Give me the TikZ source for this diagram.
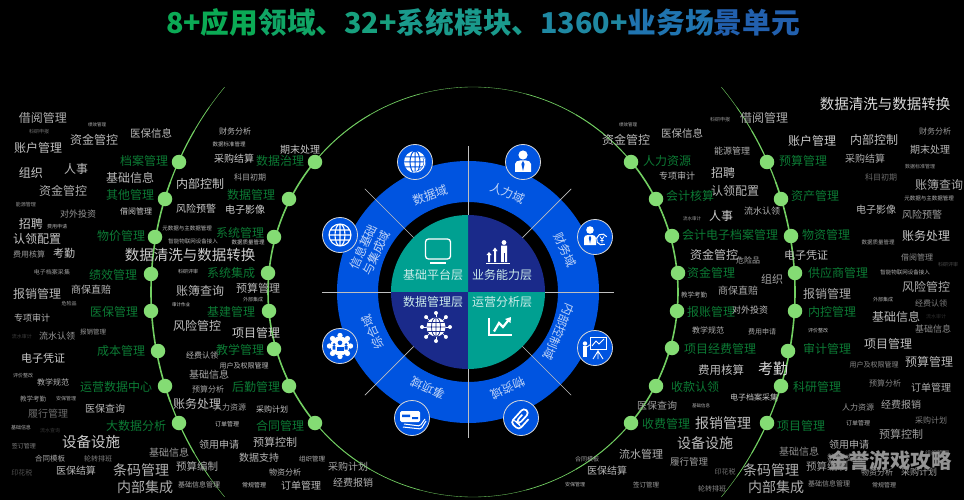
\documentclass[tikz,border=0pt]{standalone}
\usepackage{fontspec}
\setmainfont{Noto Sans CJK SC}
\usetikzlibrary{calc}
\definecolor{ringblue}{HTML}{0054E0}
\definecolor{coreteal}{HTML}{00A091}
\definecolor{corenavy}{HTML}{1A2A8A}
\definecolor{railgreen}{HTML}{72CF62}
\definecolor{dotgreen}{HTML}{84DC74}
\definecolor{wordgreen}{HTML}{0C7A34}
\tikzset{
	hotdot/.style={circle, fill=dotgreen, inner sep=0pt, minimum size=14.5pt},
	greenword/.style={color=wordgreen, inner sep=0pt, font=\fontsize{12}{12}\selectfont},
	grayword/.style={inner sep=0pt},
	ringword/.style={color=white!75!ringblue, inner sep=0pt, align=center, font=\fontsize{12}{14}\selectfont},
	coreword/.style={color=white!80!coreteal, inner sep=0pt, font=\fontsize{12}{12}\selectfont},
	iconball/.style={circle, fill=ringblue, draw=white!85!black, line width=0.8pt, inner sep=0pt, minimum size=35pt},
	spoke/.style={color=white!75!black, line width=0.7pt},
	rail/.style={color=railgreen},
}
\begin{document}
\begin{tikzpicture}[x=1pt, y=1pt]
		\useasboundingbox (0,0) rectangle (964,-500);
		\fill [black] (0,0) rectangle (964,-500);
		\coordinate (hub) at (468,-292);
		\coordinate (railhub) at (473,-292);

		\node (headline) at (483,-23) [inner sep=0pt, font=\bfseries\fontsize{28.7}{28.7}\selectfont] {\textcolor[HTML]{0BAA55}{8+应用}\textcolor[HTML]{10A565}{领域、}\textcolor[HTML]{17A07E}{32+}\textcolor[HTML]{1A9A8C}{系统模块、}\textcolor[HTML]{1F88A2}{1360+}\textcolor[HTML]{2074B0}{业务场}\textcolor[HTML]{2260AE}{景单元}};

		% the two rails, thin towards their ends
		\foreach \a/\b/\w in {140.5/219.5/1.6,-39.5/39.5/1.6,39.5/60/1,120/140.5/1,219.5/240/1,300/320.5/1,60/75/0.7,105/120/0.7,240/255/0.7,285/300/0.7,75/105/0.35,255/285/0.35} {
			\draw [rail, line width=\w pt] ($(railhub)+(\a:205)$) arc [start angle=\a, end angle=\b, radius=205pt];
		}
		\foreach \a/\b/\w in {160/200/1.6,-20/20/1.6,150/160/1.2,200/210/1.2,20/30/1.2,-30/-20/1.2,145/150/0.8,210/215/0.8,30/35/0.8,-35/-30/0.8,140.5/145/0.4,215/219.5/0.4,35/39.5/0.4,-39.5/-35/0.4} {
			\draw [rail, line width=\w pt] ($(railhub)+(\a:322)$) arc [start angle=\a, end angle=\b, radius=322pt];
		}
		\foreach \px/\py [count=\n] in {315/162,289/199,274/237,268/273,269/311,274/349,289/386,315/423,
			179/162,165/199,155/237,151/274,151/311,158/351,165/386,179/423,
			631/162,656/199,672/236,678/273,677/311,672/348,656/386,631/423,
			767/162,781/199,791/236,795/273,795/311,788/351,781/386,767/423} {
			\node [hotdot] (dot\n) at (\px,-\py) {};
		}

		% green module names
		\foreach \px/\py/\word [count=\n] in {144/161/档案管理,280/161/数据治理,130/195/其他管理,251/195/数据管理,121/236/物价管理,240/233/系统管理,113/275/绩效管理,231/273/系统集成,114/312/医保管理,231/312/基建管理,121/351/成本管理,240/350/教学管理,116/387/运营数据中心,256/387/后勤管理,136/426/大数据分析,280/426/合同管理,
			667/161/人力资源,803/161/预算管理,690/196/会计核算,815/196/资产管理,730/235/会计电子档案管理,826/235/物资管理,711/273/资金管理,838/273/供应商管理,711/312/报账管理,832/312/内控管理,720/349/项目经费管理,827/349/审计管理,695/387/收款认领,817/387/科研管理,666/424/收费管理,801/426/项目管理} {
			\node [greenword] (mod\n) at (\px,-\py) {\word};
		}

		% business scenes: x/y/size/grey/text
		\foreach \px/\py/\fs/\tn/\word [count=\n] in {
			43/118/12/68/借阅管理,97/125/4.5/70/绩效管理,39/132/5/45/科研申报,38/148/12/75/账户管理,94/140/12/72/资金管控,151/133/10.5/72/医保信息,235/131/8/72/财务分析,229/144/5.5/75/数据标准管理,300/150/10/78/期末处理,234/159/10/78/采购结算,
			31/173/12/78/组织,76/169/12/72/人事,130/178/12/72/基础信息,250/177/8/65/科目初期,200/184/12/78/内部控制,63/191/12/68/资金管控,26/205/5/60/能源管理,136/211/8/80/借阅管理,196/209/10/78/风险预警,245/210/10/82/电子影像,
			78/214/9/60/对外投资,31/224/12/78/招聘,57/227/5/70/费用申请,187/228/5.5/75/元数据与主数据管理,37/239/12/78/认领配置,193/241/5.5/70/智能物联网设备接入,248/242/5.5/78/数据质量管理,29/254/8/60/费用核算,64/253/11/78/考勤,190/255/14.5/80/数据清洗与数据转换,
			52/272/6/60/电子档案采集,188/272/5/75/科研评审,37/294/12/72/报销管理,91/290/10/72/商保直赔,200/291/12/72/账簿查询,258/288/11/72/预算管理,69/304/5/65/危险品,181/305/4.5/85/审计作业,253/300/5/70/外部集成,32/318/9/72/专项审计,
			197/326/12/75/风险管控,256/333/12/80/项目管理,22/337/5/25/流水审计,57/336/9/60/流水认领,93/332/6.5/60/报销管理,43/358/11/80/电子凭证,202/355/8/72/经费认领,244/366/7/75/用户及权限管理,209/375/10/65/基础信息,23/376/5/65/评价整改,
			53/382/8/70/教学规范,208/389/8/65/预算分析,33/399/6.5/62/教学考勤,66/399/5/65/安保管理,197/404/12/75/账务处理,230/407/8/65/人力资源,272/409/8/78/采购计划,105/409/10/72/医保查询,48/414/10/42/履行管理,227/424/6/80/订单管理,
			21/428/5/70/基础信息,50/431/5/22/流水查询,91/442/14.5/80/设备设施,219/445/10/72/领用申请,275/442/11/72/预算控制,24/446/6/50/签订管理,169/453/10/60/基础信息,259/458/10/72/数据支持,312/459/6.5/70/组织管理,50/459/7.5/65/合同模板,
			98/459/7/50/轮转排班,141/470/14/70/条码管理,197/466/10.5/68/预算编制,76/471/10/72/医保结算,22/473/7/32/印花税,285/472/8/72/物资分析,145/487/14/68/内部集成,199/485/7/68/基础信息管理,254/485/6/78/常规管理,301/486/10/72/订单管理,348/467/10/65/采购计划,353/483/10/70/经费报销,
			885/104/14.5/85/数据清洗与数据转换,628/125/4.5/70/绩效管理,720/120/5/60/科研申报,764/118/12/68/借阅管理,812/141/12/80/账户管理,874/140/12/75/内部控制,935/131/8/60/财务分析,626/140/12/72/资金管控,682/133/10.5/72/医保信息,732/151/9/68/能源管理,
			930/150/10/72/期末处理,865/159/10/68/采购结算,920/167/5/60/数据标准管理,677/176/9/72/专项审计,723/173/12/75/招聘,881/177/8/42/科目初期,939/185/12/68/账簿查询,735/191/12/72/认领配置,929/198/5.5/72/元数据与主数据管理,762/211/9/70/流水认领,
			876/210/10/72/电子影像,922/215/10/60/风险预警,721/216/12/80/人事,692/219/4.5/65/流水审计,926/236/12/78/账务处理,878/242/5.5/65/数据质量管理,714/255/12/75/资金管控,806/255/11/75/电子凭证,748/260/8/68/危险品,917/257/8/55/借阅管理,
			948/265/5/30/科研评审,772/279/11/65/组织,905/272/5.5/70/智能物联网设备接入,926/287/12/68/风险管控,738/291/10/65/商保直赔,827/294/12/68/报销管理,694/295/6.5/68/教学考勤,883/300/5/70/外部集成,931/303/8/50/经费认领,750/310/9/75/对外投资,
			896/317/12/72/基础信息,936/317/5/18/流水审计,708/330/8/68/教学规范,762/332/7/65/费用申请,818/331/5/75/评价整改,933/329/9/55/基础信息,888/344/12/75/项目管理,874/365/7/55/用户及权限管理,929/362/12/72/预算管理,721/370/11.5/75/费用核算,
			773/369/15/85/考勤,885/383/8/52/预算分析,931/388/10/68/订单管理,754/397/8/78/电子档案采集,657/406/10/62/医保查询,701/406/4.5/70/基础信息,858/407/8/60/人力资源,901/405/10/65/经费报销,931/420/8/50/采购计划,723/423/14/75/报销管理,
			858/423/6/72/订单管理,901/434/11/62/预算控制,705/443/14/75/设备设施,849/445/10/70/领用申请,641/454/11/70/流水管理,799/452/10/55/基础信息,689/462/9.5/62/履行管理,771/470/14/70/条码管理,827/466/10.5/62/预算编制,587/459/6/62/合同模板,
			607/471/10/72/医保结算,725/472/7/45/印花税,877/472/8/65/物资分析,919/472/9/65/采购计划,845/458/9/50/数据支持,937/453/6/50/组织管理,646/485/6.5/62/签订管理,712/489/7/55/轮转排班,776/487/14/68/内部集成,829/484/7/60/基础信息管理,884/485/6/65/常规管理,575/485/5/70/安保管理} {
			\node [grayword, color=white!\tn!black, font=\fontsize{\fs}{\fs}\selectfont] (scene\n) at (\px,-\py) {\word};
		}

		% centre wheel
		\fill [ringblue, even odd rule] (hub) circle [radius=131pt] (hub) circle [radius=90pt];
		\foreach \a/\tone in {0/corenavy,90/coreteal,180/corenavy,270/coreteal} {
			\fill [\tone] (hub) -- ($(hub)+(\a:77)$) arc [start angle=\a, end angle=\a+90, radius=77pt] -- cycle;
		}
		\foreach \a in {0,45,...,315} {
			\draw [spoke] ($(hub)+(\a:77)$) -- ($(hub)+(\a:146)$);
		}
		\foreach \px/\py/\rot/\word [count=\n] in {430/195/20/数据域,508/193/-23/人力域,565/250/-65/财务域,559/332/-113/内部控制域,508/388/-155/物资域,428/388/155/事项域,373/332/115/综合域,370/250/65/{信息基础\\与集成域}} {
			\node [ringword, rotate=\rot] (zone\n) at (\px,-\py) {\word};
		}
		\node [coreword] (layer1) at (433,-275) {基础平台层};
		\node [coreword] (layer2) at (502,-275) {业务能力层};
		\node [coreword] (layer3) at (433,-302) {数据管理层};
		\node [coreword] (layer4) at (502,-302) {运营分析层};

		% icons on the wheel
		\foreach \px/\py [count=\n] in {415/162,523/162,595/237,595/348,521/418,412/418,340/346,340/235} {
			\node [iconball] (ball\n) at (\px,-\py) {};
		}
		\begin{scope}[shift={(ball1)}]
			\fill [white] (0,0) circle (11);
			\draw [ringblue, line width=1pt] (0,0) ellipse (5 and 11) (0,-11) -- (0,11) (-11,0) -- (11,0) (-10,5) -- (10,5) (-10,-5) -- (10,-5);
			\draw [ringblue, line width=2.2pt] (-2,-10) arc [start angle=-100, end angle=25, radius=10pt];
			\draw [white, line width=1.1pt] (-2,-10) arc [start angle=-100, end angle=25, radius=10pt];
		\end{scope}
		\begin{scope}[shift={(ball2)}]
			\fill [white] (0,7) circle (4.6);
			\fill [white] (-8,-10) -- (-8,-2) to [out=90, in=180] (-3,1.5) -- (3,1.5) to [out=0, in=90] (8,-2) -- (8,-10) -- cycle;
			\fill [ringblue] (0,1) -- (-1.6,-2) -- (0,-9) -- (1.6,-2) -- cycle;
		\end{scope}
		\begin{scope}[shift={(ball3)}]
			\fill [white] (-5,7) circle (3.8);
			\fill [white] (-11,-8) -- (-11,-1) to [out=90, in=180] (-7,2) -- (-3,2) to [out=0, in=90] (1,-1) -- (1,-8) -- cycle;
			\fill [ringblue] (-5,1.5) -- (-6.2,-1) -- (-5,-6.5) -- (-3.8,-1) -- cycle;
			\fill [ringblue] (7,-2.5) circle (6.2);
			\draw [white, line width=1pt] (7,-2.5) ++(30:5.5) arc [start angle=30, end angle=300, radius=5.5pt];
			\draw [white, line width=0.8pt] (5,0.5) -- (7,-2.5) -- (9,0.5) (7,-2.5) -- (7,-6) (5.3,-3.5) -- (8.7,-3.5);
		\end{scope}
		\begin{scope}[shift={(ball4)}]
			\fill [white] (-10,4.5) circle (2.2);
			\fill [white] (-12,-9) rectangle (-8,2);
			\draw [white, line width=0.9pt] (-5,-1) rectangle (11,11);
			\draw [white, line width=0.9pt] (3,-1) -- (3,-11) (3,-3) -- (-2,-11) (3,-3) -- (8,-11);
			\draw [white, line width=0.9pt] (-3,2) -- (1,7) -- (4,4) -- (9,9);
			\draw [white, line width=0.8pt] (-8,1) -- (-4,4);
		\end{scope}
		\begin{scope}[shift={(ball5)}, rotate=-42, scale=0.85]
			\draw [white, line width=1.7pt, rounded corners=3.5pt] (-1.5,4) -- (-1.5,-7) -- (3,-7) -- (3,11) -- (-5.5,11) -- (-5.5,-12) -- (7.5,-12) -- (7.5,5);
		\end{scope}
		\begin{scope}[shift={(ball6)}]
			\draw [white, line width=1pt, rounded corners=1.5pt] (-8,-6) -- (8,-8) -- (13,-1);
			\draw [white, line width=1pt, rounded corners=1.5pt] (-9,-9) -- (9,-11) -- (14,-3);
			\fill [white, rounded corners=1.5pt] (-12,-4) rectangle (8,7);
			\fill [ringblue] (-10,1) rectangle (-2,3.5) (0,-1) rectangle (6,1);
		\end{scope}
		\begin{scope}[shift={(ball7)}]
			\foreach \a in {0,45,...,315} {
				\fill [white] (\a:10.5) circle (2.7);
			}
			\fill [white] (0,0) circle (9.5);
			\fill [ringblue] (0,3.2) circle (2.3);
			\fill [ringblue] (-3.5,-5) -- (-3.5,-0.5) -- (3.5,-0.5) -- (3.5,-5) -- cycle;
			\fill [ringblue] (-6,1.5) circle (1.5) (6,1.5) circle (1.5) (-7.5,-3.5) rectangle (-4.6,0) (4.6,-3.5) rectangle (7.5,0);
		\end{scope}
		\begin{scope}[shift={(ball8)}]
			\draw [white, line width=1.1pt] (0,0) circle (11) (0,0) ellipse (5 and 11) (0,-11) -- (0,11) (-11,0) -- (11,0) (-9.7,5) -- (9.7,5) (-9.7,-5) -- (9.7,-5);
		\end{scope}

		% icons in the core
		\coordinate (monitor) at (438,-250);
		\coordinate (bars) at (498,-252);
		\coordinate (network) at (436,-327);
		\coordinate (trend) at (500,-327);
		\begin{scope}[shift={(monitor)}]
			\draw [white, line width=1.3pt, rounded corners=3pt] (-12.5,-9) rectangle (12.5,11);
			\draw [white, line width=1.8pt] (-8,-13) -- (8,-13);
		\end{scope}
		\begin{scope}[shift={(bars)}]
			\draw [white, line width=1pt] (-12,-11) -- (12,-11);
			\fill [white] (-10,-10) rectangle (-8,-3) (-11.5,-3) -- (-9,0) -- (-6.5,-3) -- cycle;
			\fill [white] (-4,-10) rectangle (-2,1) (-5.5,1) -- (-3,4.5) -- (-0.5,1) -- cycle;
			\fill [white] (6,9.5) circle (2.4) (3,-10) rectangle (9,6.5);
			\fill [corenavy] (5.6,-10) rectangle (6.4,-1);
		\end{scope}
		\begin{scope}[shift={(network)}]
			\foreach \a in {0,45,...,315} {
				\draw [white, line width=0.7pt] (0,0) -- (\a:14);
				\fill [white] (\a:14) circle (2);
			}
			\fill [white] (0,0) circle (9.5);
			\draw [corenavy, line width=0.7pt] (0,0) ellipse (4.5 and 9.5) (0,-9.5) -- (0,9.5) (-9.5,0) -- (9.5,0) (-8.5,4.5) -- (8.5,4.5) (-8.5,-4.5) -- (8.5,-4.5);
		\end{scope}
		\begin{scope}[shift={(trend)}]
			\draw [white, line width=2.4pt] (-11,9) -- (-11,-8) -- (12,-8);
			\draw [white, line width=2.2pt] (-6,-4.5) -- (-1,4) -- (3,0) -- (9,7.5);
			\fill [white] (11,10) -- (5,8) -- (10.5,4) -- cycle;
		\end{scope}

		\node (stamp) at (890,-461) [inner sep=0pt, color=white!58!black, font=\bfseries\fontsize{20.5}{20.5}\selectfont] {金誉游戏攻略};
\end{tikzpicture}
\end{document}
